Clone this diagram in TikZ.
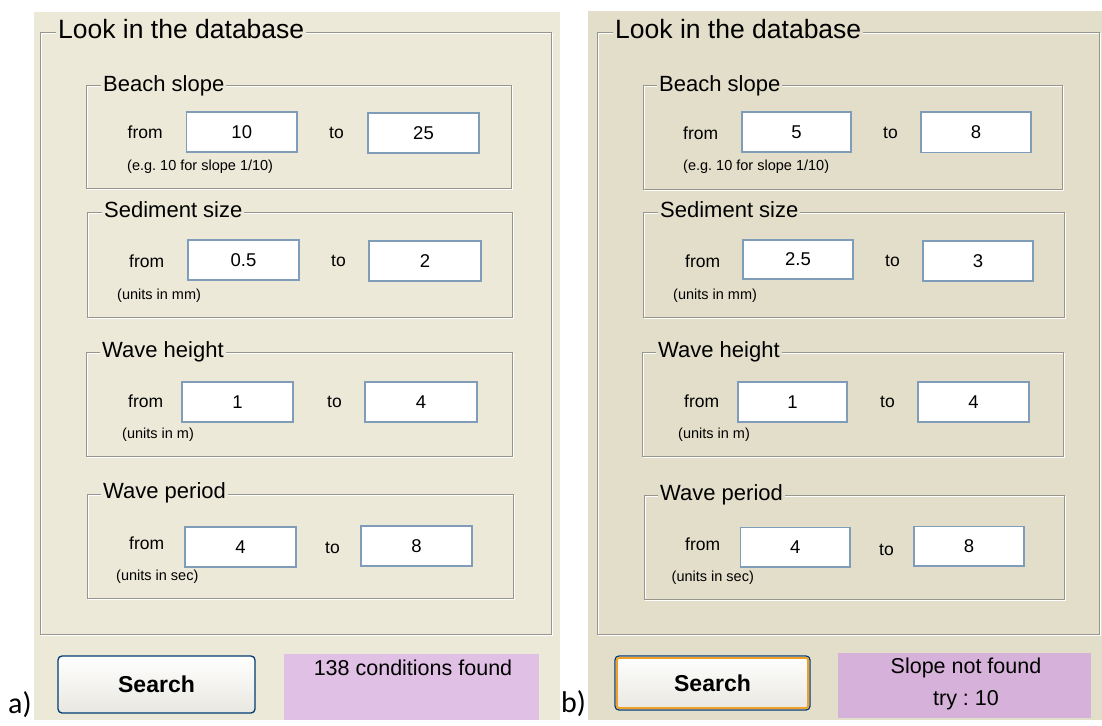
\documentclass[tikz,border=0pt]{standalone}
\usepackage{fontspec}
\setmainfont{Liberation Sans}
\newfontfamily\calfont{Carlito}
\usetikzlibrary{calc}
\frenchspacing
\definecolor{bgA}{RGB}{236,233,216}
\definecolor{bgB}{RGB}{226,222,202}
\definecolor{pinkA}{RGB}{224,192,228}
\definecolor{pinkB}{RGB}{214,178,218}
\definecolor{etchdark}{RGB}{150,150,140}
\definecolor{boxborder}{RGB}{127,157,185}
\definecolor{btnborder}{RGB}{0,60,116}
\definecolor{focusor}{RGB}{240,160,40}
\definecolor{btnbot}{RGB}{232,231,224}
\newcommand{\fs}[1]{\fontsize{#1}{#1}\selectfont}
\newcommand{\etch}[4]{%
  \draw[white, line width=1pt] (#1+1.2,#2+1.2) rectangle (#3+1.2,#4+1.2);
  \draw[etchdark, line width=1pt] (#1,#2) rectangle (#3,#4);}
\newcommand{\ent}[6]{%
  \node[entry, minimum width={#4pt-#2pt}, minimum height={#5pt-#3pt}] (#1) at ({(#2+#4)/2},{(#3+#5)/2}) {#6};}
\begin{document}
\begin{tikzpicture}[x=1pt,y=-1pt,
  grp/.style={font=\fs{22}, inner xsep=2pt, inner ysep=2pt, anchor=base west},
  ttl/.style={font=\fs{26.5}, inner xsep=2pt, inner ysep=2pt, anchor=base west},
  lbl/.style={font=\fs{17.5}, inner sep=0pt, anchor=west},
  note/.style={font=\fs{14.5}, inner sep=0pt, anchor=west},
  entry/.style={draw=boxborder, fill=white, line width=1.3pt, font=\fs{18.5}, inner sep=0pt},
  btn/.style={draw=btnborder, line width=1.3pt, rounded corners=4pt, top color=white, bottom color=btnbot, font=\bfseries\fs{23}, inner sep=0pt},
  res/.style={font=\fs{21.5}, inner sep=0pt},
  tag/.style={font=\calfont\fs{30}, inner sep=0pt, anchor=west}]
\useasboundingbox (0,0) rectangle (1102,725);
\fill[white] (0,0) rectangle (1102,725);
% ---------------- panel a
\fill[bgA] (34,12) rectangle (560,720);
\etch{40}{32.5}{551}{634}
\node[ttl, fill=bgA] (titleA) at (56,38.3) {Look in the database};
% beach slope
\etch{86}{85}{511.5}{188.5}
\node[grp, fill=bgA] (bsA) at (101,91) {Beach slope};
\node[lbl] (bsfA) at (127.5,132) {from};
\ent{bsA1}{186.5}{112}{297}{152}{10}
\node[lbl] (bstA) at (329,133) {to};
\ent{bsA2}{368}{113}{479}{153}{25}
\node[note] (bsnA) at (127,167) {(e.g. 10 for slope 1/10)};
% sediment
\etch{87}{212}{512}{317}
\node[grp, fill=bgA] (ssA) at (102,217.5) {Sediment size};
\node[lbl] (ssfA) at (129,261) {from};
\ent{ssA1}{188}{240}{299}{280}{0.5}
\node[lbl] (sstA) at (331,261) {to};
\ent{ssA2}{369}{241}{481}{281}{2}
\node[note] (ssnA) at (117,296) {(units in mm)};
% wave height
\etch{86}{352.5}{512}{456}
\node[grp, fill=bgA] (whA) at (100,357.5) {Wave height};
\node[lbl] (whfA) at (128,401) {from};
\ent{whA1}{182}{382}{293}{422}{1}
\node[lbl] (whtA) at (327,402) {to};
\ent{whA2}{365}{382}{477}{422}{4}
\node[note] (whnA) at (122,435) {(units in m)};
% wave period
\etch{87}{494}{513}{598}
\node[grp, fill=bgA] (wpA) at (101,498.5) {Wave period};
\node[lbl] (wpfA) at (129,543) {from};
\ent{wpA1}{185}{527}{296}{567}{4}
\node[lbl] (wptA) at (325,548) {to};
\ent{wpA2}{361}{526}{472}{566}{8}
\node[note] (wpnA) at (116,577) {(units in sec)};
% bottom
\node[btn, minimum width=197pt, minimum height=57pt] (srchA) at (156.5,684.5) {Search};
\node[fill=pinkA, inner sep=0pt, minimum width=255pt, minimum height=66pt] (resA) at (411.5,687) {};
\node[res] (resAt) at (413,668) {138 conditions found};
\node[tag] (tagA) at (8,705) {a)};
% ---------------- panel b
\fill[bgB] (588,11) rectangle (1102,720);
\etch{597}{32.5}{1099}{634}
\node[ttl, fill=bgB] (titleB) at (613,38.3) {Look in the database};
% beach slope
\etch{643}{85}{1062}{189}
\node[grp, fill=bgB] (bsB) at (657,91) {Beach slope};
\node[lbl] (bsfB) at (683,133) {from};
\ent{bsB1}{742}{112}{851}{152}{5}
\node[lbl] (bstB) at (883,133) {to};
\ent{bsB2}{921}{112}{1031}{152.5}{8}
\node[note] (bsnB) at (683,167) {(e.g. 10 for slope 1/10)};
% sediment
\etch{643}{212}{1064}{317}
\node[grp, fill=bgB] (ssB) at (658,217.5) {Sediment size};
\node[lbl] (ssfB) at (685,261) {from};
\ent{ssB1}{743}{240}{853}{279}{2.5}
\node[lbl] (sstB) at (885,261) {to};
\ent{ssB2}{923}{241}{1033}{281}{3}
\node[note] (ssnB) at (673,296) {(units in mm)};
% wave height
\etch{642}{352.5}{1063}{456}
\node[grp, fill=bgB] (whB) at (656,357.5) {Wave height};
\node[lbl] (whfB) at (684,401) {from};
\ent{whB1}{738}{382}{847}{422}{1}
\node[lbl] (whtB) at (880,402) {to};
\ent{whB2}{918}{382}{1029}{422}{4}
\node[note] (whnB) at (678,435) {(units in m)};
% wave period
\etch{644}{495}{1064}{599}
\node[grp, fill=bgB] (wpB) at (658,500) {Wave period};
\node[lbl] (wpfB) at (685,544) {from};
\ent{wpB1}{740.5}{527.5}{850}{567}{4}
\node[lbl] (wptB) at (879,550) {to};
\ent{wpB2}{914}{526.5}{1024}{566}{8}
\node[note] (wpnB) at (671.5,577.5) {(units in sec)};
% bottom
\node[btn, minimum width=195pt, minimum height=54pt] (srchB) at (712.5,683) {Search};
\draw[focusor, line width=2pt, rounded corners=2pt]
  ([shift={(2.6pt,-2.6pt)}]srchB.north west) rectangle ([shift={(-2.6pt,2.6pt)}]srchB.south east);
\node[fill=pinkB, inner sep=0pt, minimum width=253pt, minimum height=65pt] (resB) at (964.5,685.5) {};
\node[res] (resBt1) at (966,668) {Slope not found};
\node[res] (resBt2) at (966,700) {try : 10};
\node[tag] (tagB) at (561,704) {b)};
\end{tikzpicture}
\end{document}
